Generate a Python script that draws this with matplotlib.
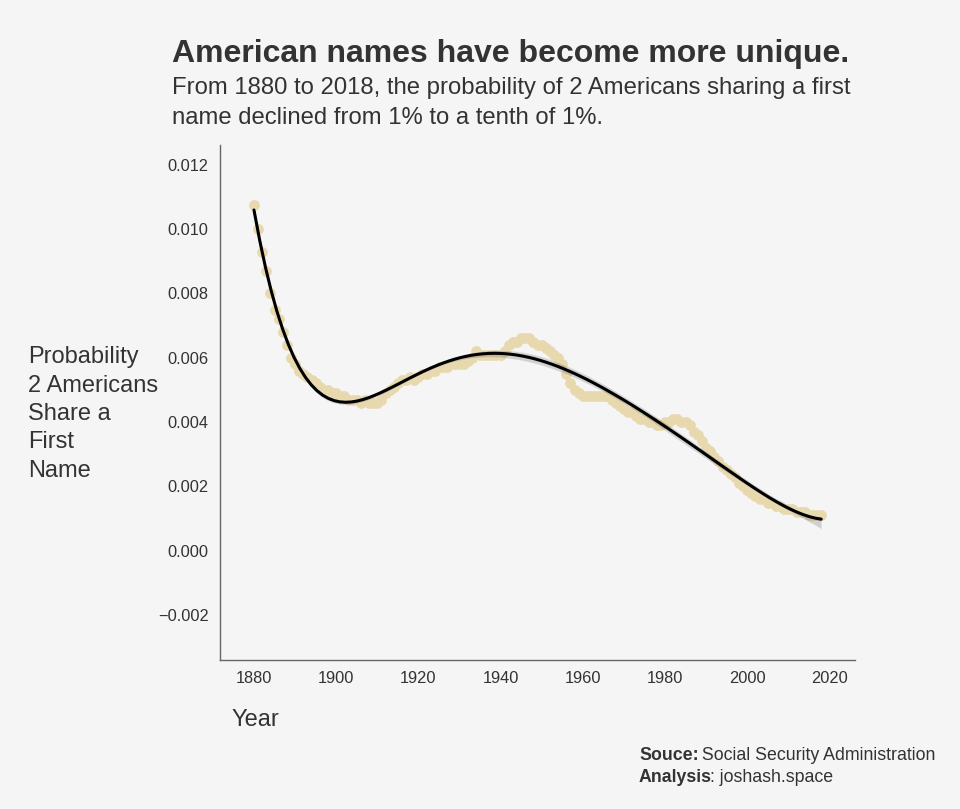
import numpy as np
import pandas as pd
import matplotlib
matplotlib.use("Agg")
import matplotlib.pyplot as plt
import seaborn as sns

# probability that two Americans share a first name, by birth year
years = list(range(1880, 2019))
prob = [
    # 1880s
    0.01075, 0.0100, 0.0093, 0.0087, 0.0080, 0.0075, 0.0072, 0.0068, 0.0064, 0.0060,
    # 1890s
    0.0058, 0.0056, 0.0055, 0.0054, 0.0053, 0.0052, 0.0051, 0.0050, 0.0050, 0.0049,
    # 1900s
    0.0049, 0.0048, 0.0048, 0.0047, 0.0047, 0.0047, 0.0046, 0.0047, 0.0046, 0.0046,
    # 1910s
    0.0046, 0.0047, 0.0049, 0.0050, 0.0051, 0.0052, 0.0053, 0.0053, 0.0054, 0.0053,
    # 1920s
    0.0054, 0.0055, 0.0055, 0.0056, 0.0056, 0.0057, 0.0057, 0.0057, 0.0058, 0.0058,
    # 1930s
    0.0058, 0.0058, 0.0059, 0.0060, 0.0062, 0.0061, 0.0061, 0.0061, 0.0061, 0.0061,
    # 1940s
    0.0061, 0.0062, 0.0064, 0.0065, 0.0065, 0.0066, 0.0066, 0.0066, 0.0065, 0.0064,
    # 1950s
    0.0064, 0.0063, 0.0062, 0.0061, 0.0060, 0.0058, 0.0055, 0.0052, 0.0050, 0.0049,
    # 1960s
    0.0048, 0.0048, 0.0048, 0.0048, 0.0048, 0.0048, 0.0048, 0.0047, 0.0046, 0.0045,
    # 1970s
    0.0044, 0.0043, 0.0043, 0.0042, 0.0041, 0.0041, 0.0040, 0.0040, 0.0039, 0.0039,
    # 1980s
    0.0040, 0.0040, 0.0041, 0.0041, 0.0040, 0.0040, 0.0039, 0.0037, 0.0036, 0.0034,
    # 1990s
    0.0032, 0.0031, 0.0029, 0.0028, 0.0026, 0.0025, 0.0024, 0.0023, 0.0021, 0.0020,
    # 2000s
    0.0019, 0.0018, 0.0017, 0.0016, 0.0016, 0.0015, 0.0015, 0.0014, 0.0014, 0.0013,
    # 2010s
    0.0013, 0.0013, 0.0012, 0.0012, 0.0012, 0.0011, 0.0011, 0.0011, 0.0011,
]
xticks = [1880, 1900, 1920, 1940, 1960, 1980, 2000, 2020]
yticks = [-0.002, 0.000, 0.002, 0.004, 0.006, 0.008, 0.010, 0.012]

df = pd.DataFrame({"year": years, "prob": prob})

bg = "#f5f5f5"
txt = "#333333"
sns.set_style("white")
plt.rcParams["font.family"] = ["Liberation Sans", "DejaVu Sans"]

fig = plt.figure(figsize=(9.6, 8.09), dpi=100, facecolor=bg)
ax = fig.add_axes([0.229, 0.184, 0.662, 0.637], facecolor=bg)

sns.regplot(data=df, x="year", y="prob", order=6, ax=ax, seed=0,
            scatter_kws={"color": "#e8d8ae", "s": 60, "alpha": 1, "linewidths": 0},
            line_kws={"color": "black", "lw": 2.2})

ax.set_xlim(1871.7, 2026.3)
ax.set_ylim(-0.0034, 0.01262)
ax.set_xticks(xticks)
ax.set_yticks(yticks)
ax.set_yticklabels([f"{v:.3f}".replace("-", "\u2212") for v in yticks])
ax.tick_params(labelsize=11.8, colors=txt, length=0, pad=8)
for s in ["top", "right"]:
    ax.spines[s].set_visible(False)
for s in ["left", "bottom"]:
    ax.spines[s].set_color("#666666")
    ax.spines[s].set_linewidth(1)

ax.set_xlabel("")
ax.set_ylabel("")
fig.text(232 / 960, 1 - 720 / 809, "Year", fontsize=17, color=txt, va="center")
fig.text(28 / 960, 1 - 414 / 809, "Probability\n2 Americans\nShare a\nFirst\nName",
         fontsize=17, color=txt, va="center", linespacing=1.37)

fig.text(172 / 960, 1 - 54 / 809, "American names have become more unique.",
         fontsize=23, fontweight="bold", color=txt, va="center")
fig.text(172 / 960, 1 - 103 / 809,
         "From 1880 to 2018, the probability of 2 Americans sharing a first\n"
         "name declined from 1% to a tenth of 1%.",
         fontsize=17.2, color=txt, va="center", linespacing=1.45)

# footer: bold lead-in followed by regular text
renderer = fig.canvas.get_renderer()
for y, bold, rest in [(760, "Souce:", " Social Security Administration"),
                      (782, "Analysis", ": joshash.space")]:
    t = fig.text(639 / 960, 1 - y / 809, bold, fontsize=12.8, fontweight="bold",
                 color=txt, va="baseline")
    x1 = (t.get_window_extent(renderer).x1 - 1.5) / fig.bbox.width
    fig.text(x1, 1 - y / 809, rest, fontsize=12.8, color=txt, va="baseline")

fig.savefig("out.png", dpi=100, facecolor=bg)
